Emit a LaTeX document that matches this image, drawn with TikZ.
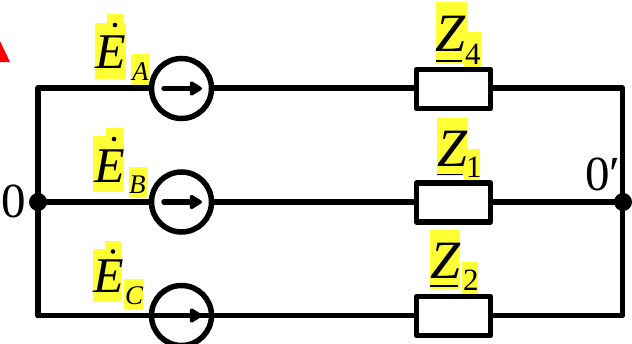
\documentclass[tikz,border=0pt]{standalone}
\usepackage{fontspec}
\setmainfont{Liberation Serif}
\usetikzlibrary{arrows.meta}
\definecolor{hl}{RGB}{255,255,51}
\tikzset{
  x=1pt,y=-1pt,
  wire/.style={line width=5.5pt,line join=round,line cap=round},
  src/.style={circle,draw,line width=5.5pt,minimum size=60pt,inner sep=0pt,fill=white},
  load/.style={rectangle,draw,line width=5.5pt,line join=round,minimum width=74pt,minimum height=39pt,inner sep=0pt,fill=white},
  junc/.style={circle,fill=black,minimum size=18pt,inner sep=0pt},
  bigE/.style={anchor=base west,inner sep=0pt,font=\fontsize{50}{50}\selectfont\itshape},
  bigZ/.style={anchor=base west,inner sep=0pt,font=\fontsize{54}{54}\selectfont\itshape},
  subit/.style={anchor=base west,inner sep=0pt,font=\fontsize{27}{27}\selectfont\itshape},
  subrm/.style={anchor=base west,inner sep=0pt,font=\fontsize{31}{31}\selectfont},
  numlab/.style={anchor=base west,inner sep=0pt,font=\fontsize{49}{49}\selectfont},
  hlbox/.style={fill=hl},
  vec/.style={line width=5.5pt,line cap=round,-{Triangle[length=14pt,width=16pt,round]}}
}
\begin{document}
\begin{tikzpicture}
\useasboundingbox (0,0) rectangle (632,343);
\clip (0,0) rectangle (632,343);
\fill[white] (0,0) rectangle (632,343);
% red mark
\fill[red] (0,41) -- (10,62) -- (0,62) -- cycle;
% highlights
\fill[hlbox] (95,23) rectangle (126,79);
\fill[hlbox] (107,14) rectangle (124,23);
\fill[hlbox] (131,54) rectangle (149,86);
\fill[hlbox] (93,136) rectangle (124,192);
\fill[hlbox] (106,128) rectangle (123,136);
\fill[hlbox] (129,167) rectangle (147,198);
\fill[hlbox] (93,249) rectangle (122,302);
\fill[hlbox] (105,241) rectangle (121,249);
\fill[hlbox] (124,279) rectangle (143,310);
\fill[hlbox] (436,2) rectangle (467,63);
\fill[hlbox] (464,32) rectangle (482,67);
\fill[hlbox] (437,118) rectangle (467,176);
\fill[hlbox] (464,149) rectangle (480,181);
\fill[hlbox] (430,230) rectangle (460,289);
\fill[hlbox] (462,262) rectangle (478,294);
% anchors
\coordinate (tl) at (38,88);
\coordinate (tr) at (622.5,88);
\coordinate (bl) at (38,315.5);
\coordinate (br) at (622.5,315.5);
\node[junc] (n0) at (38,202) {};
\node[junc] (n1) at (623,202) {};
% wires
\draw[wire] (bl) -- (tl) -- (tr) -- (br) -- (bl);
\draw[wire] (n0) -- (n1);
% sources
\node[src] (sa) at (181.5,88.5) {};
\node[src] (sb) at (181.5,202) {};
\node[src,fill=none] (sc) at (181.5,315.5) {};
\coordinate (sa0) at (164,88.5); \coordinate (sa1) at (202,88.5);
\coordinate (sb0) at (164,202); \coordinate (sb1) at (202,202);
\coordinate (sc0) at (164,315.5); \coordinate (sc1) at (202,315.5);
\draw[vec] (sa0) -- (sa1);
\draw[vec] (sb0) -- (sb1);
\draw[vec] (sc0) -- (sc1);
% loads
\node[load] (z4) at (453.5,89) {};
\node[load] (z1) at (453.5,202.5) {};
\node[load] (z2) at (453.5,316) {};
% labels
\node[bigE] (ea) at (95,68) {E};
\node[subit] (la) at (132,80) {A};
\node[bigE] (eb) at (94,182) {E};
\node[subit] (lb) at (129,193) {B};
\node[bigE] (ec) at (93,292.5) {E};
\node[subit] (lc) at (125,304) {C};
\fill (115,25) circle (2.3);
\fill (114,139) circle (2.3);
\fill (113,251.5) circle (2.3);
\node[bigZ] (za) at (435.5,51.5) {Z};
\node[subrm] (sa4) at (465,64) {4};
\node[bigZ] (zb) at (437,166) {Z};
\node[subrm] (sb1t) at (466,177.5) {1};
\node[bigZ] (zc) at (430,278) {Z};
\node[subrm] (sc2) at (463,290) {2};
\draw[line width=1.5pt] (436,61) -- (462,61);
\draw[line width=1.5pt] (437,174.5) -- (463,174.5);
\draw[line width=1.5pt] (430,286) -- (458,286);
\node[numlab] (l0) at (1,217) {0};
\node[numlab] (l0p) at (585,190) {0′};
\end{tikzpicture}
\end{document}
